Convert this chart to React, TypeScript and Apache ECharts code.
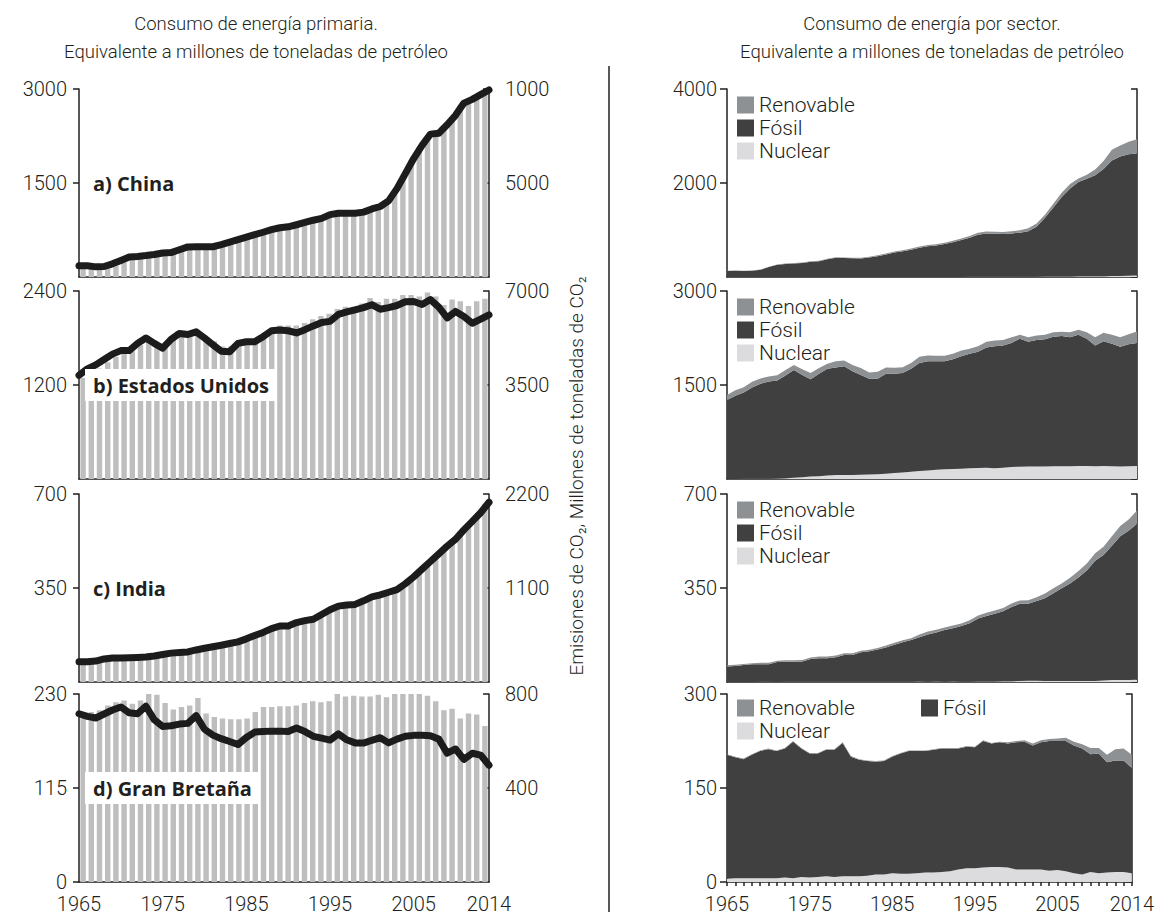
import React, { useEffect, useRef } from 'react';
import * as echarts from 'echarts';

// ---------- categories & ticks ----------
const years = [
  '1965', '1966', '1967', '1968', '1969', '1970', '1971', '1972', '1973', '1974',
  '1975', '1976', '1977', '1978', '1979', '1980', '1981', '1982', '1983', '1984',
  '1985', '1986', '1987', '1988', '1989', '1990', '1991', '1992', '1993', '1994',
  '1995', '1996', '1997', '1998', '1999', '2000', '2001', '2002', '2003', '2004',
  '2005', '2006', '2007', '2008', '2009', '2010', '2011', '2012', '2013', '2014',
];
const yearTickLabels = ['1965', '1975', '1985', '1995', '2005', '2014'];

// ---------- left: primary energy (bars, Mtoe) & CO2 (line, Mt) ----------
const chinaEnergy = [
  150, 150, 132, 140, 180, 235, 288, 298, 312, 330,
  354, 362, 405, 450, 453, 455, 452, 486, 525, 567,
  606, 645, 684, 726, 756, 771, 804, 840, 876, 906,
  966, 987, 985, 986, 1005, 1056, 1095, 1185, 1380, 1620,
  1860, 2070, 2250, 2265, 2400, 2550, 2745, 2805, 2880, 2955,
];
const chinaCO2 = [
  600, 600, 540, 560, 700, 880, 1060, 1090, 1140, 1200,
  1280, 1300, 1450, 1600, 1610, 1610, 1610, 1720, 1850, 1990,
  2120, 2250, 2380, 2520, 2620, 2670, 2780, 2900, 3020, 3120,
  3320, 3390, 3390, 3390, 3450, 3620, 3750, 4050, 4700, 5500,
  6300, 7000, 7600, 7650, 8100, 8600, 9250, 9450, 9700, 9950,
];
const usEnergy = [
  1290, 1370, 1410, 1490, 1560, 1610, 1630, 1710, 1770, 1730,
  1690, 1780, 1830, 1860, 1870, 1800, 1760, 1690, 1690, 1770,
  1770, 1780, 1840, 1920, 1960, 1960, 1960, 1990, 2040, 2080,
  2110, 2170, 2200, 2200, 2240, 2310, 2260, 2300, 2300, 2350,
  2350, 2330, 2380, 2330, 2220, 2290, 2270, 2210, 2270, 2300,
];
const usCO2 = [
  3860, 4100, 4250, 4450, 4650, 4780, 4780, 5050, 5250, 5050,
  4870, 5200, 5420, 5380, 5480, 5250, 5000, 4760, 4740, 5050,
  5110, 5110, 5300, 5520, 5550, 5520, 5440, 5560, 5700, 5830,
  5870, 6130, 6220, 6300, 6380, 6490, 6320, 6380, 6460, 6600,
  6610, 6500, 6680, 6400, 6000, 6240, 6050, 5800, 5950, 6110,
];
const indiaEnergy = [
  74, 74, 77, 85, 88, 89, 90, 91, 92, 96,
  101, 106, 109, 111, 118, 124, 130, 136, 142, 148,
  159, 172, 183, 197, 206, 207, 219, 226, 232, 249,
  266, 280, 284, 286, 299, 314, 321, 331, 340, 362,
  387, 416, 444, 472, 501, 526, 561, 592, 624, 663,
];
const indiaCO2 = [
  238, 238, 245, 270, 280, 282, 285, 288, 292, 305,
  322, 338, 345, 352, 375, 395, 412, 430, 450, 470,
  505, 545, 580, 625, 655, 656, 695, 718, 735, 790,
  845, 888, 900, 908, 950, 996, 1020, 1050, 1080, 1150,
  1230, 1320, 1410, 1500, 1590, 1670, 1780, 1880, 1980, 2103,
];
const ukEnergy = [
  206, 208, 210, 216, 220, 222, 218, 222, 232, 229,
  219, 211, 214, 216, 225, 206, 202, 200, 199, 199,
  200, 208, 214, 214, 215, 215, 216, 219, 221, 220,
  221, 230, 227, 228, 227, 227, 229, 226, 230, 232,
  233, 234, 228, 221, 210, 212, 200, 206, 205, 191,
];
const ukCO2 = [
  716, 705, 698, 715, 732, 745, 720, 716, 748, 690,
  662, 665, 672, 675, 708, 650, 625, 610, 598, 585,
  615, 638, 640, 642, 642, 640, 655, 640, 620, 612,
  604, 630, 605, 592, 591, 603, 614, 592, 608, 620,
  624, 624, 622, 608, 548, 566, 522, 548, 540, 497,
];

// ---------- right: consumption by sector (stacked, Mtoe) ----------
const chinaNuclear = [
  0, 0, 0, 0, 0, 0, 0, 0, 0, 0,
  0, 0, 0, 0, 0, 0, 0, 0, 0, 0,
  0, 0, 0, 0, 0, 0, 0, 0, 0, 3,
  3, 3, 3, 3, 3, 4, 4, 6, 10, 11,
  12, 12, 14, 16, 16, 17, 20, 22, 25, 30,
];
const chinaFossil = [
  130, 135, 128, 132, 152, 212, 262, 278, 288, 298,
  322, 336, 376, 412, 402, 398, 392, 416, 442, 478,
  522, 548, 582, 622, 652, 668, 702, 742, 786, 830,
  895, 920, 915, 910, 925, 940, 970, 1065, 1250, 1470,
  1690, 1870, 2005, 2075, 2150, 2280, 2460, 2540, 2585, 2600,
];
const chinaRenewable = [
  3, 4, 4, 4, 5, 5, 6, 7, 8, 9,
  11, 11, 11, 10, 11, 13, 15, 17, 19, 20,
  21, 22, 23, 25, 27, 29, 28, 30, 34, 38,
  43, 43, 44, 47, 46, 50, 63, 66, 65, 80,
  90, 95, 75, 85, 120, 170, 230, 235, 270, 300,
];
const usNuclear = [
  1, 1, 2, 3, 3, 5, 9, 13, 19, 27,
  40, 44, 55, 64, 62, 64, 69, 72, 74, 83,
  97, 105, 116, 128, 135, 146, 155, 158, 162, 170,
  176, 178, 172, 180, 192, 196, 198, 200, 198, 203,
  203, 204, 207, 206, 204, 206, 204, 200, 205, 207,
];
const usFossil = [
  1259, 1329, 1378, 1457, 1517, 1550, 1561, 1637, 1721, 1633,
  1550, 1636, 1705, 1716, 1738, 1656, 1591, 1528, 1526, 1597,
  1583, 1585, 1644, 1722, 1745, 1734, 1725, 1752, 1798, 1830,
  1854, 1922, 1948, 1950, 1978, 2044, 1992, 2020, 2032, 2067,
  2077, 2056, 2093, 2034, 1926, 1994, 1956, 1910, 1945, 1963,
];
const usRenewable = [
  80, 85, 85, 90, 85, 80, 85, 90, 80, 90,
  100, 90, 80, 100, 90, 100, 110, 100, 110, 100,
  95, 95, 90, 100, 90, 85, 85, 90, 90, 80,
  90, 90, 90, 90, 90, 60, 70, 70, 70, 70,
  70, 80, 80, 100, 130, 135, 140, 150, 160, 185,
];
const indiaNuclear = [
  0, 0, 0, 0, 0.5, 0.5, 0.3, 0.7, 0.6, 0.5,
  0.6, 0.7, 0.6, 0.6, 0.6, 0.7, 0.7, 0.5, 0.8, 0.9,
  1.0, 1.1, 1.1, 1.4, 1.1, 1.4, 1.3, 1.4, 1.2, 1.2,
  1.8, 1.8, 2.3, 2.6, 3.0, 3.9, 4.3, 4.4, 4.1, 3.8,
  4.0, 4.0, 4.0, 3.4, 3.8, 5.2, 7.3, 7.5, 7.5, 8.0,
];
const indiaFossil = [
  58, 60, 63, 66, 66, 66, 74, 75, 75, 76,
  85, 88, 88, 92, 100, 100, 110, 114, 120, 128,
  138, 147, 155, 165, 176, 183, 192, 199, 207, 218,
  235, 244, 252, 261, 276, 287, 287, 297, 308, 327,
  345, 363, 385, 412, 448, 468, 500, 535, 556, 581,
];
const indiaRenewable = [
  4, 4, 4, 4, 5, 5, 5, 5, 5, 5,
  6, 6, 6, 6, 6, 6, 6, 6, 6, 7,
  7, 7, 7, 10, 11, 10, 10, 10, 10, 11,
  11, 12, 12, 12, 13, 13, 13, 14, 17, 18,
  18, 21, 24, 26, 28, 30, 35, 38, 42, 50,
];
const ukNuclear = [
  5, 6, 6, 6, 6, 6, 6, 7, 6, 8,
  7, 8, 9, 8, 9, 9, 9, 10, 12, 12,
  14, 13, 13, 14, 15, 15, 16, 17, 20, 22,
  22, 23, 24, 24, 23, 20, 20, 20, 20, 18,
  19, 17, 14, 12, 16, 14, 15, 16, 16, 14,
];
const ukFossil = [
  198, 193, 190, 197, 203, 206, 203, 206, 218, 205,
  198, 197, 202, 203, 213, 191, 186, 183, 180, 181,
  186, 192, 196, 195, 194, 196, 197, 196, 193, 194,
  193, 202, 197, 199, 198, 203, 204, 198, 203, 207,
  206, 208, 204, 201, 188, 191, 176, 178, 178, 168,
];
const ukRenewable = [
  1, 1, 1, 1, 1, 1, 1, 1, 1, 1,
  1, 1, 1, 1, 1, 1, 1, 1, 1, 1,
  1, 1, 1, 1, 1, 1, 1, 1, 1, 1,
  1, 1, 1, 1, 2, 2, 2, 3, 3, 3,
  4, 5, 6, 7, 10, 9, 12, 18, 19, 21,
];

// ---------- panel definitions ----------
const panelLabels = ['a) China', 'b) Estados Unidos', 'c) India', 'd) Gran Bretaña'];
const energyMax = [3000, 2400, 700, 230];
const co2Max = [10000, 7000, 2200, 800];
const sectorMax = [4000, 3000, 700, 300];
const energySeries = [chinaEnergy, usEnergy, indiaEnergy, ukEnergy];
const co2Series = [chinaCO2, usCO2, indiaCO2, ukCO2];
const nuclearSeries = [chinaNuclear, usNuclear, indiaNuclear, ukNuclear];
const fossilSeries = [chinaFossil, usFossil, indiaFossil, ukFossil];
const renewableSeries = [chinaRenewable, usRenewable, indiaRenewable, ukRenewable];
const sectorNames = { renewable: 'Renovable', fossil: 'Fósil', nuclear: 'Nuclear' };

const titleLeft = ['Consumo de energía primaria.', 'Equivalente a millones de toneladas de petróleo'];
const titleRight = ['Consumo de energía por sector.', 'Equivalente a millones de toneladas de petróleo'];
const co2AxisName = 'Emisiones de CO₂, Millones de toneladas de CO₂';

// ---------- style / layout ----------
const FONT = 'Roboto, "Open Sans", "DejaVu Sans", sans-serif';
const BOLD_FONT = '"Open Sans", Roboto, sans-serif';
const INK = '#231f20';
const BAR = '#bebebe';
const LINE = '#1c1c1c';
const C_REN = '#8e9194';
const C_FOS = '#404040';
const C_NUC = '#dcdcde';
const TOPS = [89, 291, 494, 694];
const PH = 188;
const LX = 79;
const RX = 727;
const PW = 410;

function buildOption() {
  const lineStyle = { color: INK, width: 1.5 };
  const label = { fontFamily: FONT, fontSize: 20, color: INK, fontWeight: 300 };
  const plain = (v: number) => String(v);
  const grid: any[] = [];
  const xAxis: any[] = [];
  const yAxis: any[] = [];
  const series: any[] = [];
  const legend: any[] = [];
  const graphic: any[] = [];

  const yearLabel = (show: boolean) =>
    show
      ? { show: true, ...label, margin: 12, interval: (_i: number, v: string) => yearTickLabels.includes(v) }
      : { show: false };

  // left column
  for (let i = 0; i < 4; i++) {
    grid.push({ left: LX, width: PW, top: TOPS[i], height: PH });
    xAxis.push({
      type: 'category', gridIndex: i, data: years, boundaryGap: false,
      axisLine: { show: true, lineStyle }, axisTick: { show: false },
      axisLabel: yearLabel(i === 3), splitLine: { show: false },
    });
    xAxis.push({ type: 'category', gridIndex: i, data: years, boundaryGap: true, show: false });
    yAxis.push({
      type: 'value', gridIndex: i, position: 'left', min: 0, max: energyMax[i], interval: energyMax[i] / 2,
      axisLine: { show: true, lineStyle }, axisTick: { show: true, length: 6, lineStyle },
      axisLabel: { ...label, margin: 12, showMinLabel: i === 3, formatter: plain }, splitLine: { show: false },
    });
    yAxis.push({
      type: 'value', gridIndex: i, position: 'right', min: 0, max: co2Max[i], interval: co2Max[i] / 2,
      axisLine: { show: true, lineStyle }, axisTick: { show: true, inside: true, length: 6, lineStyle },
      axisLabel: {
        ...label, margin: 16, showMinLabel: false,
        formatter: (v: number) => (v === 10000 ? '1000' : String(v)),
      },
      splitLine: { show: false },
    });
    series.push({
      type: 'bar', xAxisIndex: 2 * i + 1, yAxisIndex: 2 * i, data: energySeries[i],
      itemStyle: { color: BAR }, barCategoryGap: '34%', silent: true,
    });
    series.push({
      type: 'line', xAxisIndex: 2 * i, yAxisIndex: 2 * i + 1, data: co2Series[i], symbol: 'none',
      lineStyle: { color: LINE, width: 7, cap: 'round', join: 'round' }, z: 3, silent: true,
    });
  }

  // right column
  for (let i = 0; i < 4; i++) {
    grid.push({ left: RX, width: PW, top: TOPS[i], height: PH });
    xAxis.push({
      type: 'category', gridIndex: 4 + i, data: years, boundaryGap: false,
      axisLine: { show: true, lineStyle },
      axisTick: i === 3 ? { show: true, interval: 0, length: 4, lineStyle } : { show: false },
      axisLabel: yearLabel(i === 3), splitLine: { show: false },
    });
    yAxis.push({
      type: 'value', gridIndex: 4 + i, position: 'left', min: 0, max: sectorMax[i], interval: sectorMax[i] / 2,
      axisLine: { show: true, lineStyle }, axisTick: { show: true, length: 7, lineStyle },
      axisLabel: { ...label, margin: 10, showMinLabel: i === 3, formatter: plain }, splitLine: { show: false },
    });
    yAxis.push({
      type: 'value', gridIndex: 4 + i, position: 'right', min: 0, max: sectorMax[i], interval: sectorMax[i] / 2,
      axisLine: { show: true, lineStyle }, axisTick: { show: true, inside: true, length: 6, lineStyle },
      axisLabel: { show: false }, splitLine: { show: false },
    });
    const parts: [string, number[], string][] = [
      [sectorNames.nuclear, nuclearSeries[i], C_NUC],
      [sectorNames.fossil, fossilSeries[i], C_FOS],
      [sectorNames.renewable, renewableSeries[i], C_REN],
    ];
    parts.forEach(([name, data, color]) => {
      series.push({
        type: 'line', name, stack: 'sector' + i, xAxisIndex: 8 + i, yAxisIndex: 8 + 2 * i, data,
        symbol: 'none', lineStyle: { width: 0, color }, areaStyle: { color, opacity: 1 },
        itemStyle: { color }, silent: true,
      });
    });
  }

  const legendBase = {
    itemWidth: 17, itemHeight: 17, icon: 'rect', selectedMode: false, padding: 0,
    textStyle: { fontFamily: FONT, fontSize: 21, lineHeight: 22, color: INK, fontWeight: 300 },
  };
  for (let i = 0; i < 3; i++) {
    legend.push({
      ...legendBase, orient: 'vertical', left: 737, top: TOPS[i] + 5, itemGap: 1,
      data: [sectorNames.renewable, sectorNames.fossil, sectorNames.nuclear],
    });
  }
  legend.push({ ...legendBase, left: 737, top: TOPS[3] + 3, data: [sectorNames.renewable] });
  legend.push({ ...legendBase, left: 921, top: TOPS[3] + 3, data: [sectorNames.fossil] });
  legend.push({ ...legendBase, left: 737, top: TOPS[3] + 26, data: [sectorNames.nuclear] });

  const txt = (text: string, x: number, y: number, extra: any = {}) => ({
    type: 'text', x, y, z: 100,
    style: {
      text, fontFamily: FONT, fontSize: 18, fontWeight: 300, fill: INK,
      align: 'center', verticalAlign: 'middle', ...extra,
    },
  });

  graphic.push(txt(titleLeft[0], 256, 24, { fontSize: 18.5 }));
  graphic.push(txt(titleLeft[1], 256, 52, { fontSize: 18.5 }));
  graphic.push(txt(titleRight[0], 932, 24, { fontSize: 18.5 }));
  graphic.push(txt(titleRight[1], 932, 52, { fontSize: 18.5 }));
  graphic.push({
    type: 'line', z: 100, shape: { x1: 609, y1: 66, x2: 609, y2: 912 },
    style: { stroke: INK, lineWidth: 1.5 },
  });
  graphic.push({ ...txt(co2AxisName, 576, 476, { fontSize: 19 }), rotation: Math.PI / 2 });

  panelLabels.forEach((t, i) => {
    const boxed = i === 1 || i === 3;
    graphic.push(
      txt(t, boxed ? 85 : 93, TOPS[i] + PH / 2, {
        align: 'left', fontSize: 20, fontWeight: 'bold', fontFamily: BOLD_FONT,
        backgroundColor: boxed ? '#ffffff' : 'transparent',
        padding: boxed ? [6, 8, 6, 8] : 0,
      })
    );
  });

  return { animation: false, backgroundColor: '#ffffff', grid, xAxis, yAxis, series, legend, graphic };
}

export default function App() {
  const ref = useRef<HTMLDivElement>(null);
  useEffect(() => {
    document.body.style.margin = '0';
    const chart = echarts.init(ref.current as HTMLDivElement, null, { renderer: 'svg' });
    chart.setOption(buildOption() as any);
    return () => chart.dispose();
  }, []);
  return <div ref={ref} style={{ width: 1157, height: 916 }} />;
}
